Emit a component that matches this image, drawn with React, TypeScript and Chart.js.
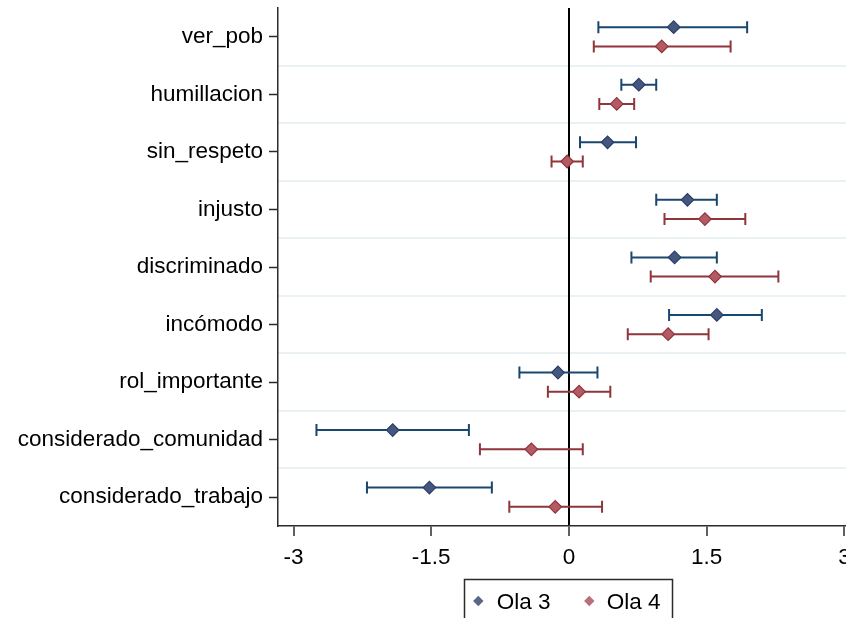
import React, { useEffect, useRef } from "react";
import { Chart, registerables } from "chart.js";

Chart.register(...registerables);

// Outcome variables, top to bottom
const categories = [
  "ver_pob",
  "humillacion",
  "sin_respeto",
  "injusto",
  "discriminado",
  "incómodo",
  "rol_importante",
  "considerado_comunidad",
  "considerado_trabajo",
];

// Wave 3 coefficients and 95% confidence bounds
const ola3Est = [1.14, 0.76, 0.42, 1.29, 1.15, 1.61, -0.12, -1.92, -1.52];
const ola3Lo = [0.32, 0.57, 0.12, 0.95, 0.68, 1.09, -0.54, -2.75, -2.2];
const ola3Hi = [1.94, 0.95, 0.73, 1.61, 1.61, 2.1, 0.31, -1.09, -0.84];

// Wave 4 coefficients and 95% confidence bounds
const ola4Est = [1.01, 0.52, -0.02, 1.48, 1.59, 1.08, 0.11, -0.41, -0.15];
const ola4Lo = [0.27, 0.33, -0.19, 1.04, 0.89, 0.64, -0.23, -0.97, -0.65];
const ola4Hi = [1.76, 0.71, 0.15, 1.92, 2.28, 1.52, 0.45, 0.15, 0.36];

const xTicks = [-3, -1.5, 0, 1.5, 3];
const seriesNames = ["Ola 3", "Ola 4"];

const FONT = "'Liberation Sans', Arial, sans-serif";
const FONT_SIZE = 22.5;
const NAVY = "#1a476f";
const MAROON = "#90353b";
const GRID = "#eaf1f3";
const AXIS = "#2b2b2b";

// vertical offset of each wave inside its row
const ROW_SHIFT = 0.167;

// x range padded a little beyond the -3..3 ticks
const X_MIN = -3.1688;
const X_PX_PER_UNIT = 91.83;

const errorBarPlugin = {
  id: "errorBars",
  afterLayout(chart: any) {
    // keep a fixed pixel scale for the x axis whatever width the layout gives
    const { left, right } = chart.chartArea;
    const wanted = X_MIN + (right - left) / X_PX_PER_UNIT;
    const xOpts = chart.options.scales.x;
    if (Math.abs((xOpts.max ?? 0) - wanted) > 1e-4) {
      xOpts.max = wanted;
      chart.$needsRelayout = true;
    }
  },
  afterRender(chart: any) {
    if (chart.$needsRelayout) {
      chart.$needsRelayout = false;
      chart.update("none");
    }
  },
  beforeDraw(chart: any) {
    // light separators between rows
    const { ctx, chartArea } = chart;
    const y = chart.scales.y;
    ctx.save();
    ctx.strokeStyle = GRID;
    ctx.lineWidth = 2;
    for (let i = 0; i < categories.length - 1; i++) {
      const py = Math.round(y.getPixelForValue(i + 0.5));
      ctx.beginPath();
      ctx.moveTo(chartArea.left, py);
      ctx.lineTo(chartArea.right, py);
      ctx.stroke();
    }
    ctx.restore();
  },
  beforeDatasetsDraw(chart: any) {
    const { ctx } = chart;
    const xs = chart.scales.x;
    const ys = chart.scales.y;
    ctx.save();
    chart.data.datasets.forEach((ds: any) => {
      ctx.strokeStyle = ds.barColor;
      ctx.lineWidth = 2;
      ds.data.forEach((pt: any, i: number) => {
        const py = ys.getPixelForValue(pt.y);
        const x1 = xs.getPixelForValue(ds.lo[i]);
        const x2 = xs.getPixelForValue(ds.hi[i]);
        const cap = 6;
        ctx.beginPath();
        ctx.moveTo(x1, py);
        ctx.lineTo(x2, py);
        ctx.moveTo(x1, py - cap);
        ctx.lineTo(x1, py + cap);
        ctx.moveTo(x2, py - cap);
        ctx.lineTo(x2, py + cap);
        ctx.stroke();
      });
    });
    ctx.restore();
  },
  afterDraw(chart: any) {
    // boxed legend under the x axis
    const { ctx } = chart;
    const boxLeft = 464.5;
    const boxTop = 579.5;
    const boxWidth = 208;
    ctx.save();
    ctx.strokeStyle = AXIS;
    ctx.lineWidth = 1.5;
    ctx.strokeRect(boxLeft, boxTop, boxWidth, 60);
    const markerX = [478.3, 589.3];
    const textX = [496.7, 606.7];
    const legendFill = ["#5b6687", "#b9707a"];
    chart.data.datasets.forEach((ds: any, k: number) => {
      const cx = markerX[k];
      const cy = 601;
      const r = 5.2;
      ctx.beginPath();
      ctx.moveTo(cx - r, cy);
      ctx.lineTo(cx, cy - r);
      ctx.lineTo(cx + r, cy);
      ctx.lineTo(cx, cy + r);
      ctx.closePath();
      ctx.fillStyle = legendFill[k];
      ctx.fill();
      ctx.fillStyle = "#000";
      ctx.font = `${FONT_SIZE}px ${FONT}`;
      ctx.textBaseline = "alphabetic";
      ctx.textAlign = "left";
      ctx.fillText(ds.label, textX[k], 609.3);
    });
    ctx.restore();
  },
};

export default function App() {
  const canvasRef = useRef<HTMLCanvasElement | null>(null);

  useEffect(() => {
    if (!canvasRef.current) return;
    Chart.defaults.font.family = FONT;
    Chart.defaults.font.size = FONT_SIZE;
    Chart.defaults.color = "#000";

    const makeData = (est: number[], shift: number) =>
      est.map((v, i) => ({ x: v, y: i + shift }));

    const chart = new Chart(canvasRef.current, {
      type: "scatter",
      data: {
        datasets: [
          {
            label: seriesNames[0],
            data: makeData(ola3Est, -ROW_SHIFT),
            lo: ola3Lo,
            hi: ola3Hi,
            barColor: NAVY,
            pointStyle: "rectRot",
            pointRadius: 6.3,
            pointBorderWidth: 1.2,
            backgroundColor: "#46577f",
            borderColor: "#2a3f68",
          } as any,
          {
            label: seriesNames[1],
            data: makeData(ola4Est, ROW_SHIFT),
            lo: ola4Lo,
            hi: ola4Hi,
            barColor: MAROON,
            pointStyle: "rectRot",
            pointRadius: 6.3,
            pointBorderWidth: 1.2,
            backgroundColor: "#b45a65",
            borderColor: MAROON,
          } as any,
        ],
      },
      options: {
        responsive: false,
        animation: false,
        events: [],
        layout: { padding: { top: 8, left: 0, right: 0, bottom: 0 } },
        plugins: {
          legend: { display: false },
          tooltip: { enabled: false },
        },
        scales: {
          x: {
            type: "linear",
            min: X_MIN,
            max: 3.3867,
            afterBuildTicks: (scale: any) => {
              scale.ticks = xTicks.map((v) => ({ value: v }));
            },
            afterFit: (scale: any) => {
              scale.height = 92;
              scale.paddingLeft = 0;
              scale.paddingRight = 0;
              scale.paddingTop = 0;
              scale.paddingBottom = 0;
            },
            ticks: {
              autoSkip: false,
              maxRotation: 0,
              padding: 8,
              color: "#000",
              callback: (v: any) => String(v),
            },
            grid: {
              drawOnChartArea: true,
              color: (c: any) =>
                c.tick && c.tick.value === 0 ? "#000" : "rgba(0,0,0,0)",
              lineWidth: 2,
              tickColor: AXIS,
              tickWidth: 1.5,
              tickLength: 10,
            },
            border: { display: true, color: AXIS, width: 1.5 },
          },
          y: {
            type: "linear",
            reverse: true,
            min: -0.5,
            max: 8.5,
            afterBuildTicks: (scale: any) => {
              scale.ticks = categories.map((_, i) => ({ value: i }));
            },
            afterFit: (scale: any) => {
              scale.width = 278;
              scale.paddingLeft = 0;
              scale.paddingRight = 0;
              scale.paddingTop = 0;
              scale.paddingBottom = 0;
            },
            ticks: {
              autoSkip: false,
              padding: 6,
              color: "#000",
              callback: (v: any) => categories[v as number],
            },
            grid: {
              drawOnChartArea: false,
              tickColor: AXIS,
              tickWidth: 1.5,
              tickLength: 9,
            },
            border: { display: true, color: AXIS, width: 1.5 },
          },
        },
      } as any,
      plugins: [errorBarPlugin],
    });
    return () => chart.destroy();
  }, []);

  return (
    <div
      style={{
        position: "fixed",
        left: 0,
        top: 0,
        width: 846,
        height: 618,
        overflow: "hidden",
        background: "#fff",
      }}
    >
      <canvas ref={canvasRef} width={880} height={618} />
    </div>
  );
}
